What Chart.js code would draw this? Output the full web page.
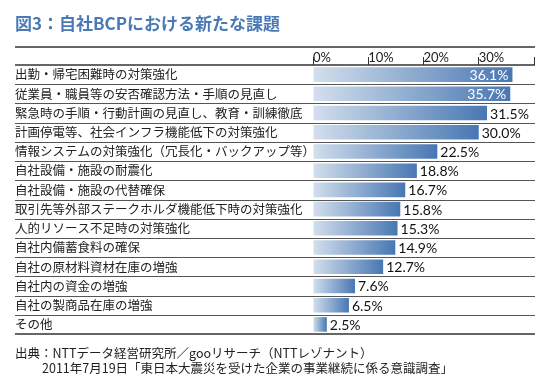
<!DOCTYPE html>
<html>
<head>
<meta charset="utf-8">
<script src="https://cdn.jsdelivr.net/npm/chart.js@4"></script>
<style>
  body { margin: 0; background: #fff; }
  #wrap { position: relative; width: 550px; height: 390px; overflow: hidden; }
  #chart { position: absolute; left: 0; top: 0; }
  .txt { position: absolute; font-family: "Noto Sans CJK JP", sans-serif; white-space: nowrap; }
  #title { left: 15px; top: 10px; font-size: 17px; font-weight: bold; color: #4a7ab6; }
  #src1 { left: 15px; top: 343px; font-size: 12.5px; color: #222; }
  #src2 { left: 42px; top: 358px; font-size: 12.5px; color: #222; }
</style>
</head>
<body>
<div id="wrap">
  <canvas id="chart" width="550" height="390"></canvas>
  <div class="txt" id="title">図3：自社BCPにおける新たな課題</div>
  <div class="txt" id="src1">出典：NTTデータ経営研究所／gooリサーチ（NTTレゾナント）</div>
  <div class="txt" id="src2">2011年7月19日「東日本大震災を受けた企業の事業継続に係る意識調査」</div>
</div>
<script>
// --- data ---
const categories = [
    '出勤・帰宅困難時の対策強化',
    '従業員・職員等の安否確認方法・手順の見直し',
    '緊急時の手順・行動計画の見直し、教育・訓練徹底',
    '計画停電等、社会インフラ機能低下の対策強化',
    '情報システムの対策強化（冗長化・バックアップ等）',
    '自社設備・施設の耐震化',
    '自社設備・施設の代替確保',
    '取引先等外部ステークホルダ機能低下時の対策強化',
    '人的リソース不足時の対策強化',
    '自社内備蓄食料の確保',
    '自社の原材料資材在庫の増強',
    '自社内の資金の増強',
    '自社の製商品在庫の増強',
    'その他'
];
const values = [36.1, 35.7, 31.5, 30.0, 22.5, 18.8, 16.7, 15.8, 15.3, 14.9, 12.7, 7.6, 6.5, 2.5];
const xTicks = [0, 10, 20, 30, 40];
const xTickLabels = ['0%', '10%', '20%', '30%', ''];

const NUM_FONT = 'Lato, "DejaVu Sans", sans-serif';

// row separators across the full width
const rowLines = {
    id: 'rowLines',
    afterDraw(chart) {
        const ctx = chart.ctx;
        const ys = chart.scales.y;
        const area = chart.chartArea;
        const left = 15, right = 535;
        ctx.save();
        // heavy lines: header top, header bottom, table bottom
        ctx.strokeStyle = '#333';
        ctx.lineWidth = 1.5;
        [chart.scales.x.top, area.top, area.bottom].forEach(y => {
            ctx.beginPath();
            ctx.moveTo(left, y);
            ctx.lineTo(right, y);
            ctx.stroke();
        });
        // thin lines between rows
        ctx.strokeStyle = '#555';
        ctx.lineWidth = 1;
        for (let i = 0; i < categories.length - 1; i++) {
            const y = Math.round((ys.getPixelForValue(i) + ys.getPixelForValue(i + 1)) / 2) + 0.5;
            ctx.beginPath();
            ctx.moveTo(left, y);
            ctx.lineTo(right, y);
            ctx.stroke();
        }
        ctx.restore();
    }
};

// percentage labels at bar ends
const valueLabels = {
    id: 'valueLabels',
    afterDatasetsDraw(chart) {
        const ctx = chart.ctx;
        const meta = chart.getDatasetMeta(0);
        ctx.save();
        ctx.font = '14px ' + NUM_FONT;
        ctx.textBaseline = 'middle';
        meta.data.forEach((bar, i) => {
            const v = values[i];
            const txt = v.toFixed(1) + '%';
            if (v > 33) {
                ctx.fillStyle = '#fff';
                ctx.textAlign = 'right';
                ctx.fillText(txt, bar.x - 4, bar.y + 1);
            } else {
                ctx.fillStyle = '#111';
                ctx.textAlign = 'left';
                ctx.fillText(txt, bar.x + 3, bar.y + 1);
            }
        });
        ctx.restore();
    }
};

new Chart(document.getElementById('chart'), {
    type: 'bar',
    data: {
        labels: categories,
        datasets: [{
            data: values,
            backgroundColor(c) {
                const chart = c.chart;
                if (!chart.chartArea || !chart.scales.x || c.type !== 'data') return '#4a7ab6';
                const xs = chart.scales.x;
                const x0 = xs.getPixelForValue(0);
                const x1 = xs.getPixelForValue(values[c.dataIndex]);
                const g = chart.ctx.createLinearGradient(x0, 0, x1, 0);
                g.addColorStop(0, '#d3dfec');
                g.addColorStop(1, '#4877b3');
                return g;
            },
            borderWidth: 0,
            categoryPercentage: 1,
            barPercentage: 0.76
        }]
    },
    options: {
        indexAxis: 'y',
        responsive: false,
        animation: false,
        devicePixelRatio: 1,
        layout: { padding: { left: 15, right: 16, top: 47, bottom: 56 } },
        plugins: {
            legend: { display: false },
            tooltip: { enabled: false }
        },
        scales: {
            x: {
                position: 'top',
                min: 0,
                max: 40,
                afterBuildTicks(scale) {
                    scale.ticks = xTicks.map(v => ({ value: v }));
                },
                afterFit(scale) {
                    scale.height = 18;
                },
                ticks: {
                    align: 'start',
                    padding: -9,
                    color: '#222',
                    font: { family: NUM_FONT, size: 13 },
                    maxRotation: 0,
                    callback: (v, i) => xTickLabels[i]
                },
                grid: {
                    drawOnChartArea: false,
                    drawTicks: true,
                    tickLength: 8,
                    color: '#333'
                },
                border: { display: false }
            },
            y: {
                afterFit(scale) {
                    scale.width = 298;
                },
                ticks: {
                    crossAlign: 'far',
                    padding: 0,
                    color: '#222',
                    font: { family: '"Noto Sans CJK JP", sans-serif', size: 12.5 },
                    autoSkip: false
                },
                grid: { display: false },
                border: { display: false }
            }
        }
    },
    plugins: [rowLines, valueLabels]
});
</script>
</body>
</html>
